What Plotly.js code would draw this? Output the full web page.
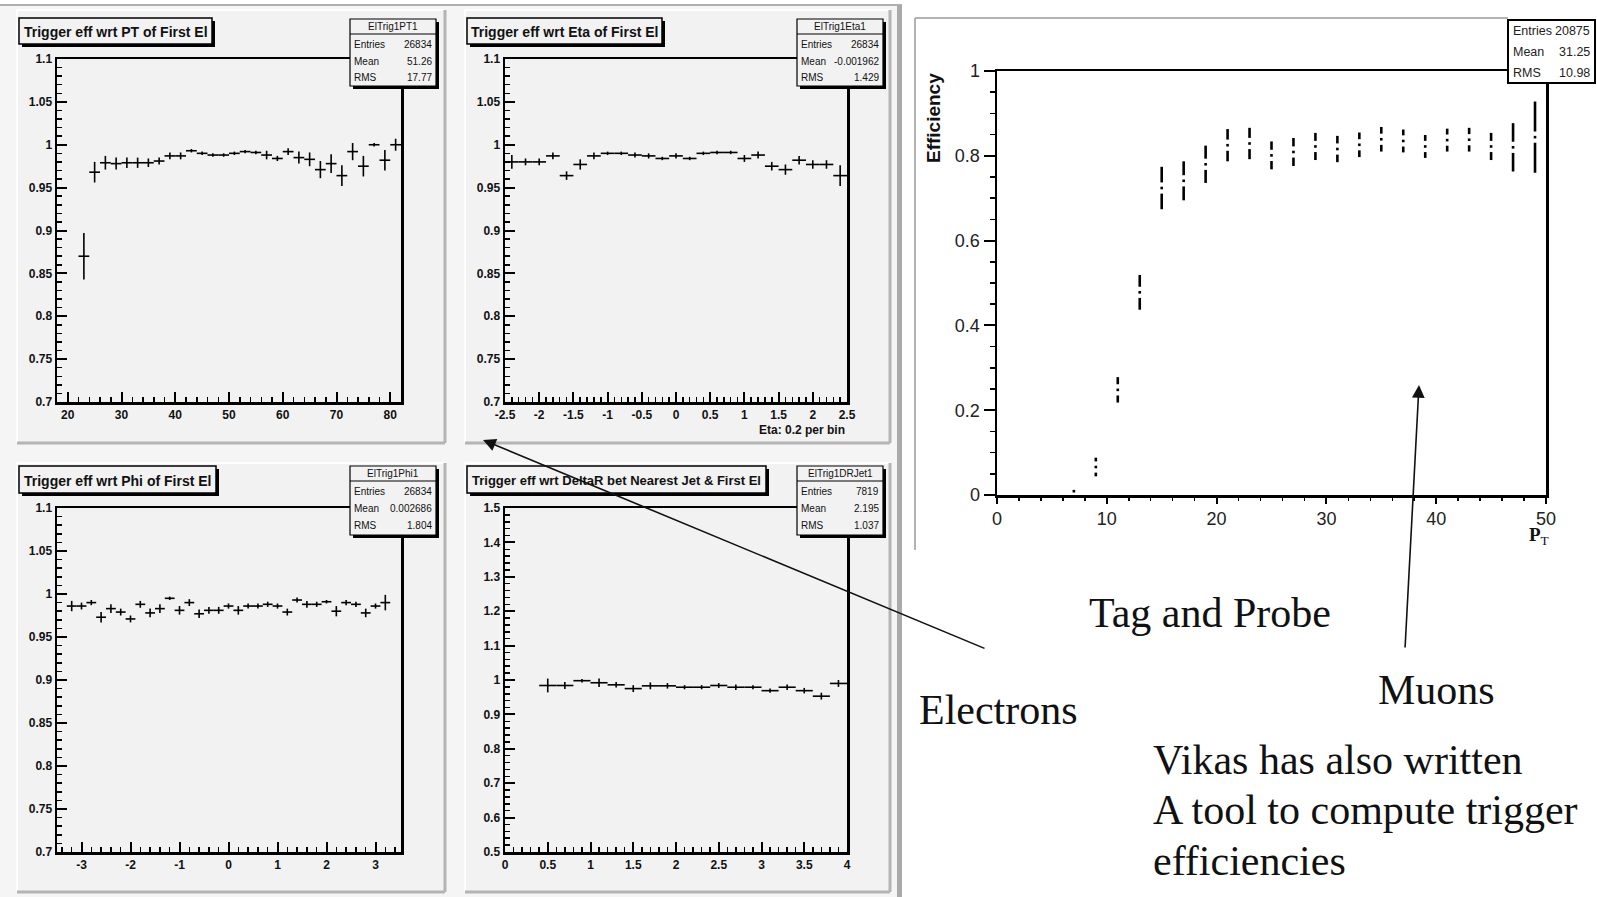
<!DOCTYPE html>
<html><head><meta charset="utf-8">
<script src="https://cdn.plot.ly/plotly-3.0.1.min.js"></script>
<style>html,body{margin:0;padding:0;background:#fff;}#chart{width:1597px;height:897px;}</style>
</head><body><div id="chart"></div>
<script>
// ---------- DATA ----------
const ptX   = [23,25,27,29,31,33,35,37,39,41,43,45,47,49,51,53,55,57,59,61,63,65,67,69,71,73,75,77,79,81];
const ptY   = [0.870,0.968,0.979,0.978,0.979,0.979,0.979,0.981,0.987,0.987,0.993,0.990,0.988,0.988,0.990,0.992,0.991,0.988,0.984,0.992,0.985,0.983,0.971,0.978,0.964,0.992,0.975,1.000,0.982,1.000];
const ptErr = [0.027,0.012,0.008,0.007,0.006,0.006,0.005,0.004,0.004,0.004,0.002,0.002,0.002,0.002,0.002,0.002,0.002,0.005,0.003,0.004,0.007,0.008,0.010,0.011,0.012,0.010,0.012,0.002,0.012,0.007];

const etaX   = [-2.4,-2.2,-2.0,-1.8,-1.6,-1.4,-1.2,-1.0,-0.8,-0.6,-0.4,-0.2,0.0,0.2,0.4,0.6,0.8,1.0,1.2,1.4,1.6,1.8,2.0,2.2,2.4];
const etaY   = [0.980,0.980,0.980,0.987,0.964,0.977,0.987,0.990,0.990,0.988,0.987,0.984,0.987,0.984,0.990,0.991,0.991,0.984,0.988,0.975,0.971,0.982,0.977,0.977,0.964];
const etaErr = [0.008,0.004,0.004,0.004,0.005,0.006,0.004,0.002,0.002,0.003,0.003,0.002,0.003,0.002,0.002,0.002,0.002,0.004,0.004,0.005,0.006,0.005,0.005,0.005,0.012];

const phiX   = [-3.2,-3.0,-2.8,-2.6,-2.4,-2.2,-2.0,-1.8,-1.6,-1.4,-1.2,-1.0,-0.8,-0.6,-0.4,-0.2,0.0,0.2,0.4,0.6,0.8,1.0,1.2,1.4,1.6,1.8,2.0,2.2,2.4,2.6,2.8,3.0,3.2];
const phiY   = [0.986,0.986,0.990,0.973,0.983,0.979,0.971,0.988,0.978,0.983,0.995,0.981,0.990,0.977,0.981,0.981,0.986,0.981,0.986,0.986,0.988,0.986,0.979,0.993,0.988,0.988,0.991,0.980,0.990,0.988,0.978,0.986,0.990];
const phiErr = [0.006,0.004,0.003,0.006,0.005,0.004,0.004,0.004,0.005,0.005,0.002,0.005,0.004,0.005,0.004,0.004,0.003,0.005,0.003,0.003,0.003,0.003,0.004,0.003,0.004,0.003,0.002,0.006,0.003,0.003,0.005,0.003,0.009];

const drX   = [0.5,0.7,0.9,1.1,1.3,1.5,1.7,1.9,2.1,2.3,2.5,2.7,2.9,3.1,3.3,3.5,3.7,3.9];
const drY   = [0.984,0.984,0.998,0.992,0.986,0.975,0.983,0.983,0.979,0.979,0.984,0.979,0.979,0.969,0.979,0.969,0.953,0.990];
const drErr = [0.020,0.010,0.005,0.012,0.008,0.010,0.010,0.008,0.006,0.006,0.007,0.008,0.006,0.006,0.008,0.008,0.010,0.010];

const muX   = [7,9,11,13,15,17,19,21,23,25,27,29,31,33,35,37,39,41,43,45,47,49];
const muY   = [0.009,0.066,0.248,0.478,0.724,0.741,0.780,0.825,0.829,0.801,0.809,0.822,0.816,0.826,0.839,0.835,0.822,0.837,0.838,0.822,0.820,0.844];
const muErr = [0.004,0.022,0.030,0.041,0.050,0.046,0.044,0.038,0.037,0.033,0.033,0.032,0.031,0.029,0.029,0.027,0.027,0.027,0.028,0.032,0.057,0.084];

const effTickVals = [0.7,0.75,0.8,0.85,0.9,0.95,1,1.05,1.1];
const effTickText = ['0.7','0.75','0.8','0.85','0.9','0.95','1','1.05','1.1'];
const ptTickVals  = [20,30,40,50,60,70,80];
const ptTickText  = ['20','30','40','50','60','70','80'];
const etaTickVals = [-2.5,-2,-1.5,-1,-0.5,0,0.5,1,1.5,2,2.5];
const etaTickText = ['-2.5','-2','-1.5','-1','-0.5','0','0.5','1','1.5','2','2.5'];
const phiTickVals = [-3,-2,-1,0,1,2,3];
const phiTickText = ['-3','-2','-1','0','1','2','3'];
const drTickVals  = [0,0.5,1,1.5,2,2.5,3,3.5,4];
const drTickText  = ['0','0.5','1','1.5','2','2.5','3','3.5','4'];
const drYTickVals = [0.5,0.6,0.7,0.8,0.9,1,1.1,1.2,1.3,1.4,1.5];
const drYTickText = ['0.5','0.6','0.7','0.8','0.9','1','1.1','1.2','1.3','1.4','1.5'];
const muXTickVals = [0,10,20,30,40,50];
const muXTickText = ['0','10','20','30','40','50'];
const muYTickVals = [0,0.2,0.4,0.6,0.8,1];
const muYTickText = ['0','0.2','0.4','0.6','0.8','1'];

const titles = ['Trigger eff wrt PT of First El','Trigger eff wrt Eta of First El','Trigger eff wrt Phi of First El','Trigger eff wrt DeltaR bet Nearest Jet &amp; First El'];
const titleSizes = [14,14,14,13];
const statNames = ['ElTrig1PT1','ElTrig1Eta1','ElTrig1Phi1','ElTrig1DRJet1'];
const statEntries = ['26834','26834','26834','7819'];
const statMean = ['51.26','-0.001962','0.002686','2.195'];
const statRMS = ['17.77','1.429','1.804','1.037'];
const muStats = [['Entries','20875'],['Mean','31.25'],['RMS','10.98']];

// ---------- HELPERS ----------
const W = 1597, H = 897;
const X = v => v / W, Y = v => 1 - v / H;
const SANS = "'Liberation Sans',Arial,sans-serif";
const SERIF = "'Liberation Serif','Times New Roman',serif";
const shapes = [], annotations = [];
function rect(x0, y0, x1, y1, fill, line, layer) {
  shapes.push({type:'rect', xref:'paper', yref:'paper', x0:X(x0), x1:X(x1), y0:Y(y1), y1:Y(y0),
    fillcolor: fill || 'rgba(0,0,0,0)', line: line || {width:0}, layer: layer || 'above'});
}
function seg(x0, y0, x1, y1, color, width, layer) {
  shapes.push({type:'line', xref:'paper', yref:'paper', x0:X(x0), x1:X(x1), y0:Y(y0), y1:Y(y1),
    line:{color:color, width:width}, layer: layer || 'above'});
}
function text(t, x, y, font, xanchor, extra) {
  annotations.push(Object.assign({text:t, xref:'paper', yref:'paper', x:X(x), y:Y(y), showarrow:false,
    xanchor: xanchor || 'center', yanchor:'middle', font:font}, extra || {}));
}

// ---------- BACKGROUND ----------
rect(0, 6, 897, 897, '#f5f5f5', null, 'below');
seg(0, 5, 902, 5, '#b0b0b0', 2, 'below');
rect(897, 5, 902, 897, '#aaaaaa', null, 'below');
const panels = [[17,10,445,443],[465,10,890,443],[17,463,445,892],[465,463,890,892]];
panels.forEach(p => {
  rect(p[0], p[1], p[2], p[3], '#f2f2f2', null, 'below');
  seg(p[0], p[1], p[2], p[1], '#ffffff', 2, 'below');
  seg(p[0], p[1], p[0], p[3], '#ffffff', 2, 'below');
  seg(p[0], p[3], p[2], p[3], '#b4b4b4', 3, 'below');
  seg(p[2], p[1], p[2], p[3], '#b4b4b4', 3, 'below');
});
// right panel frame
seg(915, 18, 915, 550, '#9a9a9a', 1.5, 'below');
seg(915, 18, 1508, 18, '#9a9a9a', 1.5, 'below');

// ---------- TITLE & STAT BOXES ----------
const titleBoxes = [[19,18,212,44],[467,18,662,44],[19,466,216,493],[467,466,766,493]];
titleBoxes.forEach((b, i) => {
  rect(b[0]+3, b[1]+3, b[2]+3, b[3]+3, '#000000');
  rect(b[0], b[1], b[2], b[3], '#f2f2f2', {color:'#000', width:1.5});
  text(titles[i], (b[0]+b[2])/2, (b[1]+b[3])/2 + 1, {family:SANS, size:titleSizes[i], color:'#111', weight:'bold'});
});
const statBoxes = [[350,19,436,86],[797,19,883,86],[350,466,436,535],[797,466,883,535]];
statBoxes.forEach((b, i) => {
  rect(b[0]+3, b[1]+3, b[2]+3, b[3]+3, '#000000');
  rect(b[0], b[1], b[2], b[3], '#f2f2f2', {color:'#000', width:1.2});
  seg(b[0], b[1]+15, b[2], b[1]+15, '#000', 1.2);
  const f = {family:SANS, size:10, color:'#111'};
  text(statNames[i], (b[0]+b[2])/2, b[1]+7.5, f);
  const rows = [['Entries', statEntries[i]], ['Mean', statMean[i]], ['RMS', statRMS[i]]];
  rows.forEach((r, k) => {
    const yy = b[1] + 25 + k*17;
    text(r[0], b[0]+2, yy, f, 'left');
    text(r[1], b[2]-2, yy, f, 'right');
  });
});
// muon stats box
rect(1508, 20, 1595, 83, '#ffffff', {color:'#000', width:2});
muStats.forEach((r, k) => {
  const yy = 31 + k*21;
  const f = {family:SANS, size:12.5, color:'#222'};
  text(r[0], 1511, yy, f, 'left');
  text(r[1], 1592, yy, f, 'right');
});

// ---------- AXIS LABELS / TEXTS ----------
text('Eta: 0.2 per bin', 847, 430, {family:SANS, size:12, color:'#111', weight:'bold'}, 'right');
text('Efficiency', 934, 118, {family:SANS, size:19, color:'#111', weight:'bold'}, 'center', {textangle:-90});
text('<b>P</b><sub>T</sub>', 1539, 536, {family:SERIF, size:19, color:'#111'});
const big = {family:SERIF, size:42, color:'#111'};
text('Tag and Probe', 1087, 613, big, 'left');
text('Muons', 1376, 690, big, 'left');
text('Electrons', 917, 710, big, 'left');
text('Vikas has also written', 1151, 760, big, 'left');
text('A tool to compute trigger', 1151, 810, big, 'left');
text('efficiencies', 1151, 861, big, 'left');
// arrows
annotations.push({text:'', xref:'paper', yref:'paper', x:X(483), y:Y(440), ax:986-483, ay:649-440,
  showarrow:true, arrowhead:2, arrowsize:1.6, arrowwidth:1.6, arrowcolor:'#111', standoff:0});
annotations.push({text:'', xref:'paper', yref:'paper', x:X(1419), y:Y(385), ax:1405-1419, ay:649-385,
  showarrow:true, arrowhead:2, arrowsize:1.6, arrowwidth:1.6, arrowcolor:'#111', standoff:0});

// ---------- AXES ----------
function rootAxis(domainPx, isX, range, tv, tt, minorDtick, anchor) {
  return {
    domain: isX ? [X(domainPx[0]), X(domainPx[1])] : [Y(domainPx[1]), Y(domainPx[0])],
    range: range, anchor: anchor, showgrid:false, zeroline:false, showline:true, linecolor:'#000',
    linewidth:2.5, mirror:true, ticks:'inside', ticklen:10, tickwidth:2, tickcolor:'#000',
    tickmode:'array', tickvals:tv, ticktext:tt,
    tickfont:{family:SANS, size:12, color:'#111', weight:'bold'},
    minor:{ticks:'inside', ticklen:5, tickwidth:1.5, tickcolor:'#000', tickmode:'linear', tick0:0, dtick:minorDtick, showgrid:false},
    fixedrange:true
  };
}
const layout = {
  width:W, height:H, margin:{l:0,r:0,t:0,b:0}, paper_bgcolor:'#ffffff', plot_bgcolor:'rgba(0,0,0,0)',
  showlegend:false, shapes:shapes, annotations:annotations,
  xaxis:  rootAxis([57,401], true, [18,82], ptTickVals, ptTickText, 2, 'y'),
  yaxis:  rootAxis([59,402], false, [0.7,1.1], effTickVals, effTickText, 0.01, 'x'),
  xaxis2: rootAxis([505,847], true, [-2.5,2.5], etaTickVals, etaTickText, 0.1, 'y2'),
  yaxis2: rootAxis([59,402], false, [0.7,1.1], effTickVals, effTickText, 0.01, 'x2'),
  xaxis3: rootAxis([57,401], true, [-3.5,3.52], phiTickVals, phiTickText, 0.2, 'y3'),
  yaxis3: rootAxis([508,852], false, [0.7,1.1], effTickVals, effTickText, 0.01, 'x3'),
  xaxis4: rootAxis([505,847], true, [0,4], drTickVals, drTickText, 0.1, 'y4'),
  yaxis4: rootAxis([508,852], false, [0.5,1.5], drYTickVals, drYTickText, 0.02, 'x4'),
  xaxis5: {domain:[X(997),X(1546)], range:[0,50], anchor:'y5', showgrid:false, zeroline:false, showline:true,
    linecolor:'#000', linewidth:2.5, mirror:true, ticks:'outside', ticklen:6, tickwidth:2, tickcolor:'#000',
    tickmode:'array', tickvals:muXTickVals, ticktext:muXTickText, tickfont:{family:SANS, size:18, color:'#222'},
    minor:{ticks:'outside', ticklen:3, tickwidth:1.5, tickcolor:'#000', tickmode:'linear', tick0:0, dtick:2}, fixedrange:true},
  yaxis5: {domain:[Y(495),Y(71)], range:[0,1], anchor:'x5', showgrid:false, zeroline:false, showline:true,
    linecolor:'#000', linewidth:2.5, mirror:true, ticks:'outside', ticklen:11, tickwidth:2, tickcolor:'#000',
    tickmode:'array', tickvals:muYTickVals, ticktext:muYTickText, tickfont:{family:SANS, size:18, color:'#222'},
    minor:{ticks:'outside', ticklen:5, tickwidth:1.5, tickcolor:'#000', tickmode:'linear', tick0:0, dtick:0.05}, fixedrange:true}
};

// ---------- TRACES ----------
function crosses(x, y, e, halfBin, xa, ya) {
  return {type:'scatter', mode:'markers', x:x, y:y, xaxis:xa, yaxis:ya, cliponaxis:false,
    marker:{size:1, color:'#000'},
    error_y:{type:'data', array:e, visible:true, color:'#000', thickness:1.6, width:0},
    error_x:{type:'constant', value:halfBin, visible:true, color:'#000', thickness:1.6, width:0},
    hoverinfo:'skip'};
}
const traces = [
  crosses(ptX, ptY, ptErr, 1, 'x', 'y'),
  crosses(etaX, etaY, etaErr, 0.1, 'x2', 'y2'),
  crosses(phiX, phiY, phiErr, 0.1, 'x3', 'y3'),
  crosses(drX, drY, drErr, 0.1, 'x4', 'y4'),
  {type:'scatter', mode:'markers', x:muX, y:muY, xaxis:'x5', yaxis:'y5', marker:{size:1, color:'#000', opacity:0},
    error_y:{type:'data', array:muErr, visible:true, color:'#000', thickness:2.6, width:0}, hoverinfo:'skip'},
  {type:'scatter', mode:'markers', x:muX, y:muY, xaxis:'x5', yaxis:'y5',
    marker:{symbol:'line-ns', size:8, color:'#fff', line:{color:'#fff', width:4}}, hoverinfo:'skip'},
  {type:'scatter', mode:'markers', x:muX, y:muY, xaxis:'x5', yaxis:'y5',
    marker:{symbol:'square', size:2.6, color:'#000'}, hoverinfo:'skip'}
];

Plotly.newPlot('chart', traces, layout, {staticPlot:true, displayModeBar:false});
</script></body></html>
